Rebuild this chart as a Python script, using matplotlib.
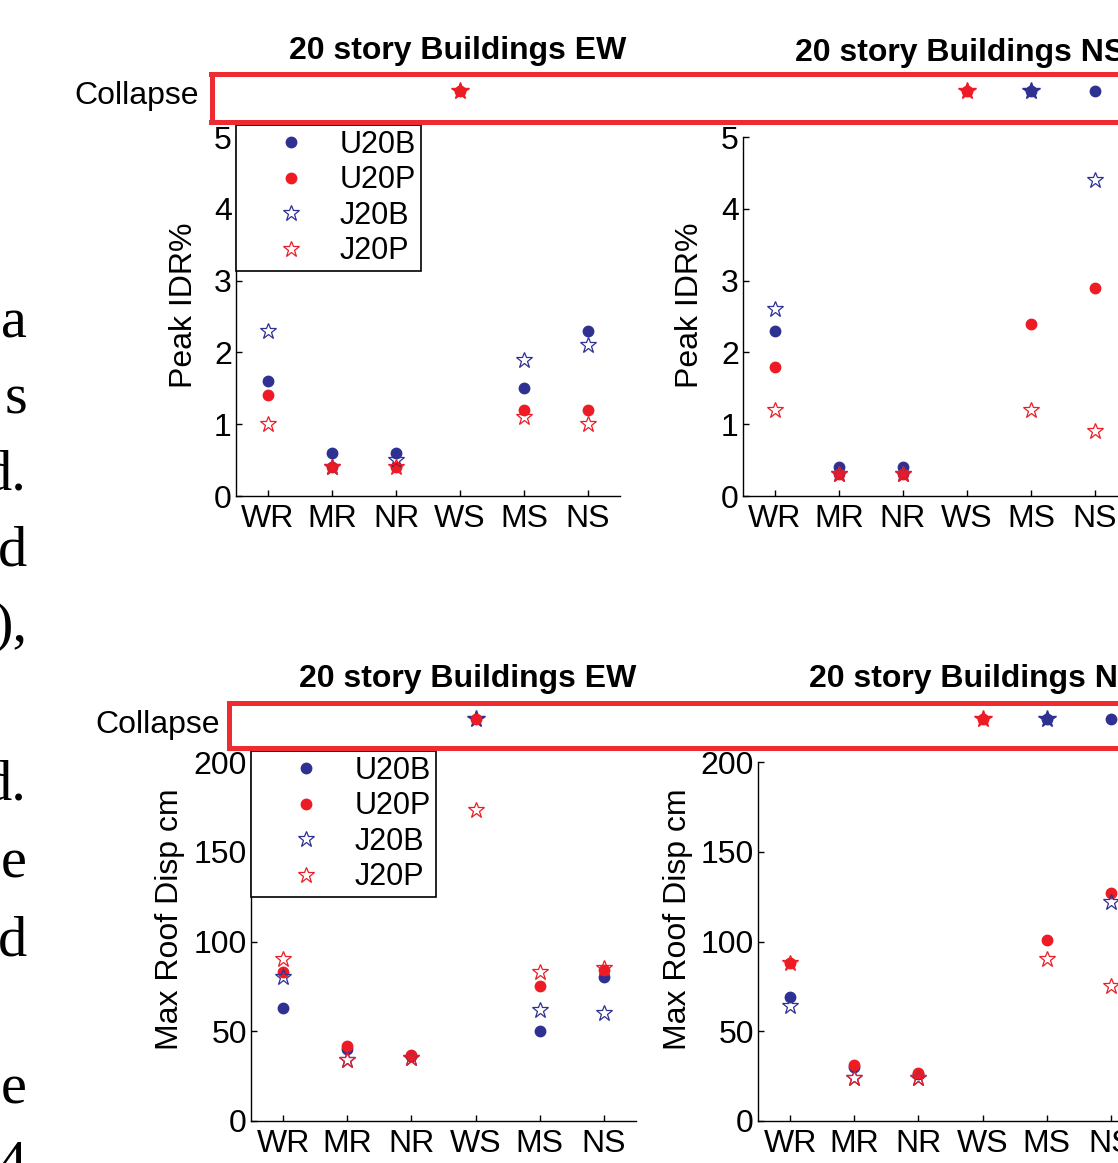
import matplotlib.pyplot as plt
import matplotlib.transforms as mtransforms
import numpy as np

nan = np.nan

# categories and series
cats = ["WR", "MR", "NR", "WS", "MS", "NS"]
series = ["U20B", "U20P", "J20B", "J20P"]

# Peak IDR %, EW direction
idr_ew_u20b = [1.6, 0.6, 0.6, nan, 1.5, 2.3]
idr_ew_u20p = [1.4, 0.4, 0.4, nan, 1.2, 1.2]
idr_ew_j20b = [2.3, 0.4, 0.5, nan, 1.9, 2.1]
idr_ew_j20p = [1.0, 0.4, 0.4, nan, 1.1, 1.0]

# Peak IDR %, NS direction
idr_ns_u20b = [2.3, 0.4, 0.4, nan, nan, nan]
idr_ns_u20p = [1.8, 0.3, 0.3, nan, 2.4, 2.9]
idr_ns_j20b = [2.6, 0.3, 0.3, nan, nan, 4.4]
idr_ns_j20p = [1.2, 0.3, 0.3, nan, 1.2, 0.9]

# Max roof displacement cm, EW direction
disp_ew_u20b = [63, 40, 36, nan, 50, 80]
disp_ew_u20p = [83, 42, 37, nan, 75, 84]
disp_ew_j20b = [80, 34, 35, nan, 62, 60]
disp_ew_j20p = [90, 34, 35, 173, 83, 85]

# Max roof displacement cm, NS direction
disp_ns_u20b = [69, 30, 26, nan, nan, nan]
disp_ns_u20p = [88, 31, 27, nan, 101, 127]
disp_ns_j20b = [64, 24, 24, nan, nan, 122]
disp_ns_j20p = [88, 24, 24, nan, 90, 75]

# collapsed cases (category names) per series
idr_ew_collapse = {"U20P": ["WS"], "J20P": ["WS"]}
idr_ns_collapse = {"U20B": ["MS", "NS"], "U20P": ["WS"], "J20B": ["MS"], "J20P": ["WS"]}
disp_ew_collapse = {"U20P": ["WS"], "J20B": ["WS"]}
disp_ns_collapse = {"U20B": ["MS", "NS"], "U20P": ["WS"], "J20B": ["MS"], "J20P": ["WS"]}

# text fragments of the page body on the left margin
margin_text = ["a", "s", "d.", "d", "),", "d.", "e", "d", "e", "4"]
margin_base = [337, 413, 489, 566, 641, 800, 878, 955, 1104, 1180]

BLUE = "#2E3192"
RED = "#ED1C24"
BOX_RED = "#EE2B31"
styles = {
    "U20B": dict(marker="o", color=BLUE),
    "U20P": dict(marker="o", color=RED),
    "J20B": dict(marker="*", color=BLUE),
    "J20P": dict(marker="*", color=RED),
}

plt.rcParams["font.family"] = ["Liberation Sans", "DejaVu Sans"]

W, H = 1118, 1163
fig = plt.figure(figsize=(W / 100, H / 100), dpi=100)


def px_axes(l, t, r, b, **kw):
    return fig.add_axes([l / W, 1 - b / H, (r - l) / W, (b - t) / H], **kw)


def style_axes(ax, ylim, yticks):
    ax.set_xlim(0.5, 6.5)
    ax.set_ylim(*ylim)
    ax.set_xticks(np.arange(1, 7))
    ax.set_xticklabels(cats)
    ax.set_yticks(yticks)
    for s in ["top", "right"]:
        ax.spines[s].set_visible(False)
    for s in ["left", "bottom"]:
        ax.spines[s].set_linewidth(1.0)
    ax.tick_params(direction="in", length=4, width=1, labelsize=23)
    ax.tick_params(axis="x", pad=5.5)
    ax.tick_params(axis="y", pad=3)


def draw_points(ax, vals):
    x = np.arange(1, 7)
    for name, v in zip(series, vals):
        st = styles[name]
        if st["marker"] == "o":
            ax.plot(x, v, "o", color=st["color"], markersize=7.5, linestyle="none",
                    label=name, clip_on=False)
        else:
            ax.plot(x, v, "*", markerfacecolor="none", markeredgecolor=st["color"],
                    markeredgewidth=0.9, markersize=12, linestyle="none",
                    label=name, clip_on=False)


def draw_collapse(strip, ax, collapse):
    trans = mtransforms.blended_transform_factory(ax.transData, strip.transAxes)
    # stars first, dots on top
    for name in ["J20B", "J20P", "U20B", "U20P"]:
        if name not in collapse:
            continue
        st = styles[name]
        xs = [cats.index(c) + 1 for c in collapse[name]]
        ys = [0.65] * len(xs)
        ms = 7.5 if st["marker"] == "o" else 13
        strip.plot(xs, ys, st["marker"], color=st["color"], markersize=ms,
                   transform=trans, clip_on=False, linestyle="none")


def add_legend(ax, x_px, y_px):
    leg = ax.legend(loc="lower left", bbox_to_anchor=(x_px / W, 1 - y_px / H),
                    bbox_transform=fig.transFigure, fontsize=22, frameon=True,
                    fancybox=False, framealpha=1, edgecolor="black", borderaxespad=0,
                    borderpad=0.15, handlelength=3.3, handletextpad=-0.05,
                    labelspacing=0.18, numpoints=1)
    leg.get_frame().set_linewidth(1.2)


def add_strip(l, t, r, b):
    strip = px_axes(l, t, r, b, zorder=5)
    strip.set_xticks([])
    strip.set_yticks([])
    for s in strip.spines.values():
        s.set_color(BOX_RED)
        s.set_linewidth(3.6)
    return strip


# panel axes (pixel boxes)
ax_tl = px_axes(236, 137, 620, 496)
ax_tr = px_axes(743, 137, 1127, 496)
ax_bl = px_axes(251, 762, 636, 1121)
ax_br = px_axes(758, 762, 1143, 1121)

panels = [
    (ax_tl, [idr_ew_u20b, idr_ew_u20p, idr_ew_j20b, idr_ew_j20p], (0, 5), range(0, 6)),
    (ax_tr, [idr_ns_u20b, idr_ns_u20p, idr_ns_j20b, idr_ns_j20p], (0, 5), range(0, 6)),
    (ax_bl, [disp_ew_u20b, disp_ew_u20p, disp_ew_j20b, disp_ew_j20p], (0, 200), range(0, 201, 50)),
    (ax_br, [disp_ns_u20b, disp_ns_u20p, disp_ns_j20b, disp_ns_j20p], (0, 200), range(0, 201, 50)),
]
for ax, vals, ylim, yt in panels:
    style_axes(ax, ylim, yt)
    draw_points(ax, vals)

add_legend(ax_tl, 236, 271)
add_legend(ax_bl, 251, 897)

strip_top = add_strip(211.5, 74, 1145, 121.5)
strip_bot = add_strip(228.5, 703, 1145, 747.5)
draw_collapse(strip_top, ax_tl, idr_ew_collapse)
draw_collapse(strip_top, ax_tr, idr_ns_collapse)
draw_collapse(strip_bot, ax_bl, disp_ew_collapse)
draw_collapse(strip_bot, ax_br, disp_ns_collapse)

# titles
for cx, by, txt in [(458, 59, "20 story Buildings EW"), (960, 61, "20 story Buildings NS"),
                    (468, 687, "20 story Buildings EW"), (974, 687, "20 story Buildings NS")]:
    fig.text(cx / W, 1 - by / H, txt, ha="center", va="baseline", fontsize=23,
             fontweight="bold")

# collapse labels
fig.text(74 / W, 1 - 104 / H, "Collapse", ha="left", va="baseline", fontsize=23)
fig.text(95 / W, 1 - 733 / H, "Collapse", ha="left", va="baseline", fontsize=23)

# y labels
for cx, by, txt in [(184, 388, "Peak IDR%"), (690, 388, "Peak IDR%"),
                    (170, 1050, "Max Roof Disp cm"), (678, 1050, "Max Roof Disp cm")]:
    fig.text(cx / W, 1 - by / H, txt, rotation=90, ha="center", va="bottom", fontsize=23)

# body text cut at the left margin
for t, b in zip(margin_text, margin_base):
    fig.text(27 / W, 1 - b / H, t, ha="right", va="baseline", fontsize=42,
             family="Liberation Serif")

fig.savefig("out.png", dpi=100)
